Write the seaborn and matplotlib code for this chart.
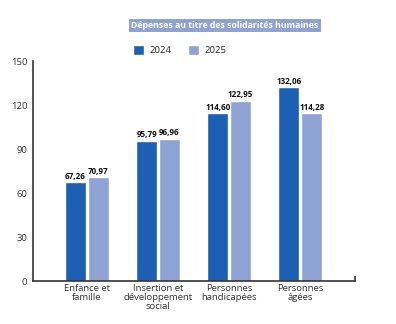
import matplotlib
matplotlib.use("Agg")
import matplotlib.pyplot as plt
import seaborn as sns
import pandas as pd

categories = ["Enfance et\nfamille", "Insertion et\ndéveloppement\nsocial",
              "Personnes\nhandicapées", "Personnes\nâgées"]
values_2024 = [67.26, 95.79, 114.60, 132.06]
values_2025 = [70.97, 96.96, 122.95, 114.28]
years = ["2024", "2025"]
yticks = [0, 30, 60, 90, 120, 150]
title = "Dépenses au titre des solidarités humaines"

df = pd.DataFrame({
    "categorie": categories * 2,
    "annee": [years[0]] * len(categories) + [years[1]] * len(categories),
    "valeur": values_2024 + values_2025,
})

sns.set_theme(style="white")
plt.rcParams["font.family"] = ["Open Sans", "DejaVu Sans"]

colors = {"2024": "#1c5fb3", "2025": "#8ea3d4"}
fig = plt.figure(figsize=(3.96, 3.24), dpi=100)
ax = fig.add_axes([0.0833, 0.1327, 0.8132, 0.679])

sns.barplot(data=df, x="categorie", y="valeur", hue="annee", palette=colors,
            order=categories, hue_order=years, width=0.64, gap=0.08,
            saturation=1, ax=ax, legend=True)

for cont in ax.containers:
    labels = [f"{v:.2f}".replace(".", ",") for v in cont.datavalues]
    ax.bar_label(cont, labels=labels, padding=1, fontsize=5.8,
                 fontweight="bold", color="#111111")

ax.set_ylim(0, 150)
ax.set_xlim(-0.76, 3.77)
ax.set_yticks(yticks)
ax.set_xlabel("")
ax.set_ylabel("")
ax.tick_params(axis="y", direction="in", length=5, width=1.1, color="#333333",
               labelsize=6.8, labelcolor="#333333", pad=4)
ax.tick_params(axis="x", length=0, labelsize=6.8, labelcolor="#333333", pad=2)
for lab in ax.get_xticklabels():
    lab.set_linespacing(1.0)

ax.spines["top"].set_visible(False)
for side in ["left", "bottom", "right"]:
    ax.spines[side].set_color("#333333")
    ax.spines[side].set_linewidth(1.2)
ax.spines["right"].set_bounds(0, 3)

sns.move_legend(ax, "upper left", bbox_to_anchor=(0.315, 0.888),
                bbox_transform=fig.transFigure, ncol=2, frameon=False,
                title=None, fontsize=6.8, handlelength=1.1, handleheight=1.3,
                handletextpad=0.6, columnspacing=1.8)

fig.text(0.332, 0.922, title, fontsize=6.3, fontweight="bold", color="white",
         va="center", ha="left",
         bbox=dict(boxstyle="square,pad=0.25", facecolor="#8ea3d4",
                   edgecolor="none"))

fig.savefig("out.png", dpi=100)
